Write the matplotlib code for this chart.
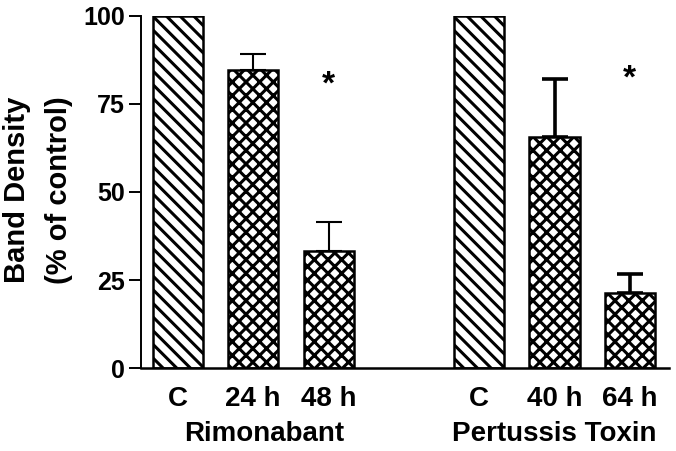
import numpy as np
import matplotlib
matplotlib.use('Agg')
import matplotlib.pyplot as plt
from matplotlib import transforms

# data
positions = [0, 1, 2, 4, 5, 6]
tick_labels = ['C', '24 h', '48 h', 'C', '40 h', '64 h']
values = [100, 84.7, 33.3, 100, 65.7, 21.4]
errors = [0, 4.5, 8.3, 0, 16.4, 5.3]
hatches = ['\\' * 2, 'x' * 2, 'x' * 2, '\\' * 2, 'x' * 2, 'x' * 2]
groups = ['Rimonabant', 'Pertussis Toxin']
group_x = [1.15, 5.0]
star_x = [2, 6]
star_y = [80.3, 82.2]

# hatch spacing follows dpi, so draw at a lower dpi and scale point sizes up
DPI = 82
k = 100 / DPI

plt.rcParams['font.family'] = ['Liberation Sans', 'DejaVu Sans']
plt.rcParams['font.weight'] = 'bold'
plt.rcParams['hatch.linewidth'] = 2.2 * k

fig = plt.figure(figsize=(676 / DPI, 451 / DPI), dpi=DPI)
ax = fig.add_axes([141 / 676, 1 - 368 / 451, (669 - 141) / 676, (368 - 16) / 451])

for x, v, h in zip(positions, values, hatches):
    ax.bar(x, v, width=0.665, color='white', edgecolor='black', hatch=h,
           linewidth=1.8 * k, zorder=2)

err_lw = [1.5, 1.5, 1.5, 2.6, 2.6, 2.6]
for x, v, e, lw in zip(positions, values, errors, err_lw):
    if e > 0:
        ax.errorbar(x, v, yerr=[[0], [e]], fmt='none', ecolor='black',
                    elinewidth=lw * k, capsize=9.5 * k, capthick=lw * k, zorder=1)

for x, y in zip(star_x, star_y):
    ax.text(x, y, '*', ha='center', va='center', fontsize=24 * k, fontweight='bold')

ax.set_xlim(-0.49, 6.52)
ax.set_ylim(0, 100)
ax.set_yticks([0, 25, 50, 75, 100])
ax.set_xticks(positions)
ax.set_xticklabels(tick_labels, fontsize=20 * k, fontweight='bold')
ax.tick_params(axis='x', length=0, pad=13 * k)
ax.tick_params(axis='y', length=8.6 * k, width=1.4 * k, pad=3 * k, labelsize=18 * k)
for lab in ax.get_yticklabels():
    lab.set_fontweight('bold')

ax.spines['top'].set_visible(False)
ax.spines['right'].set_visible(False)
ax.spines['left'].set_linewidth(1.4 * k)
ax.spines['bottom'].set_linewidth(1.8 * k)

trans = transforms.blended_transform_factory(ax.transData, ax.transAxes)
for gx, g in zip(group_x, groups):
    ax.text(gx, -0.188, g, transform=trans, ha='center', va='center',
            fontsize=20 * k, fontweight='bold')

fig.text(38 / 676, 1 - 190 / 451, 'Band Density\n(% of control)', rotation=90,
         ha='center', va='center', fontsize=21 * k, fontweight='bold',
         linespacing=1.6)

fig.savefig('out.png', dpi=DPI)
